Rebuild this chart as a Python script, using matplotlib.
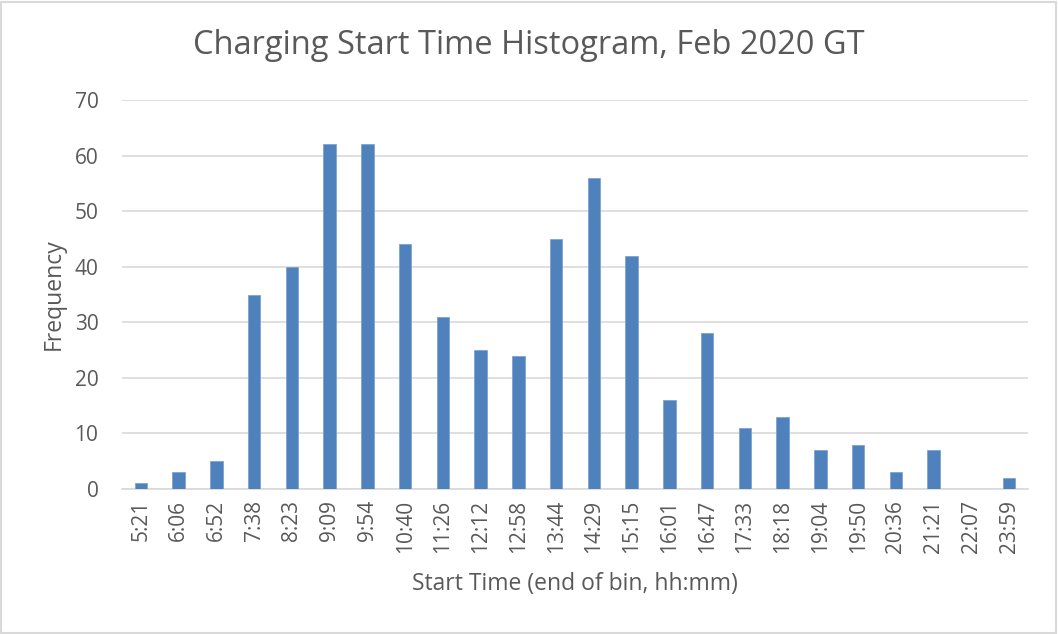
import matplotlib
matplotlib.use("Agg")
import matplotlib.pyplot as plt
from matplotlib.patches import Rectangle

bins = ["5:21", "6:06", "6:52", "7:38", "8:23", "9:09", "9:54", "10:40", "11:26",
        "12:12", "12:58", "13:44", "14:29", "15:15", "16:01", "16:47", "17:33",
        "18:18", "19:04", "19:50", "20:36", "21:21", "22:07", "23:59"]
freq = [1, 3, 5, 35, 40, 62, 62, 44, 31, 25, 24, 45, 56, 42, 16, 28, 11, 13,
        7, 8, 3, 7, 0, 2]
yticks = [0, 10, 20, 30, 40, 50, 60, 70]

plt.rcParams["font.family"] = ["Open Sans", "DejaVu Sans"]
txt = "#595959"

fig = plt.figure(figsize=(10.58, 6.34), dpi=100)
ax = fig.add_axes([122 / 1058, 145 / 634, 906 / 1058, 389 / 634])

x = range(len(bins))
ax.bar(x, freq, width=0.33, color="#4F81BD", edgecolor="#7FA3D3", linewidth=0.6, zorder=3)

ax.set_xlim(-0.5, len(bins) - 0.5)
ax.set_ylim(0, 70)
ax.set_yticks(yticks)
ax.set_xticks(list(x))
ax.set_xticklabels(bins, rotation=90)
ax.tick_params(axis="both", length=0, colors=txt, labelsize=15)
ax.tick_params(axis="y", pad=17)
ax.tick_params(axis="x", pad=8)
ax.grid(axis="y", color="#D9D9D9", linewidth=1.2, zorder=0)
for s in ["top", "right", "left"]:
    ax.spines[s].set_visible(False)
ax.spines["bottom"].set_color("#D9D9D9")
ax.spines["bottom"].set_linewidth(1.2)

ax.set_ylabel("Frequency", fontsize=16.5, color=txt, labelpad=6)
ax.set_xlabel("Start Time (end of bin, hh:mm)", fontsize=16.5, color=txt, labelpad=13)
fig.text(0.5, 1 - 45 / 634, "Charging Start Time Histogram, Feb 2020 GT",
         ha="center", va="center", fontsize=23.5, color=txt)

fig.patches.append(Rectangle((0.001, 0.002), 0.997, 0.995, transform=fig.transFigure,
                             fill=False, edgecolor="#D9D9D9", linewidth=1.5))

fig.savefig("out.png", dpi=100)
plt.close(fig)
